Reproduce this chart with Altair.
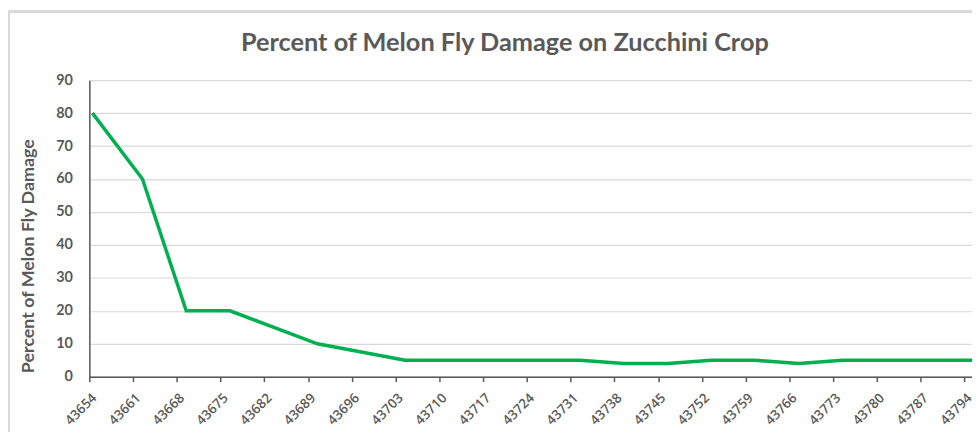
import altair as alt
import pandas as pd

# Excel serial dates and percent damage
dates = [43654, 43662, 43669, 43676, 43690, 43704, 43732, 43739, 43746, 43753, 43760, 43767, 43774, 43795]
damage = [80, 60, 20, 20, 10, 5, 5, 4, 4, 5, 5, 4, 5, 5]

x_ticks = [43654, 43661, 43668, 43675, 43682, 43689, 43696, 43703, 43710, 43717,
           43724, 43731, 43738, 43745, 43752, 43759, 43766, 43773, 43780, 43787, 43794]
y_ticks = [0, 10, 20, 30, 40, 50, 60, 70, 80, 90]

title_text = ["Percent of Melon Fly Damage on Zucchini Crop"]

df = pd.DataFrame({"date": dates, "damage": damage})
tdf = pd.DataFrame({"t": title_text})

GRAY = "#595959"
FONT = "Lato"

line = alt.Chart(df).transform_calculate(
    xpos="datum.date + 0.5"
).mark_line(color="#00b050", strokeWidth=3.5, clip=True).encode(
    x=alt.X("xpos:Q",
            scale=alt.Scale(domain=[43654, 43795.2], nice=False, zero=False),
            axis=alt.Axis(values=x_ticks, title=None, labelAngle=-45, format="d",
                          grid=False, ticks=True, tickSize=5, tickColor=GRAY, tickWidth=1.5,
                          domainColor=GRAY, domainWidth=1.5,
                          labelColor=GRAY, labelFont="Open Sans", labelFontSize=13.5,
                          labelFontWeight=600,
                          labelPadding=9, labelFlush=False, labelOverlap=False)),
    y=alt.Y("damage:Q",
            scale=alt.Scale(domain=[0, 90], nice=False),
            axis=alt.Axis(values=y_ticks, title="Percent of Melon Fly Damage",
                          grid=True, gridColor="#d9d9d9", gridWidth=1.2,
                          ticks=False, domainColor=GRAY, domainWidth=1.5,
                          labelColor=GRAY, labelFont=FONT, labelFontSize=14.5,
                          labelFontWeight="bold", labelPadding=17,
                          titleColor=GRAY, titleFont=FONT, titleFontSize=18,
                          titleFontWeight="bold", titleX=-61, titleY=177,
                          titleBaseline="middle", titleAngle=270)),
)

title = alt.Chart(tdf).mark_text(
    font=FONT, fontSize=25.5, fontWeight="bold", color=GRAY,
    align="center", baseline="middle"
).encode(text="t:N", x=alt.value(419), y=alt.value(-37))

border_left = alt.Chart(df).mark_rule(color="#d9d9d9", strokeWidth=2).encode(
    x=alt.value(-81), y=alt.value(-69), y2=alt.value(360)
)
border_top = alt.Chart(df).mark_rule(color="#d9d9d9", strokeWidth=2).encode(
    x=alt.value(-82), x2=alt.value(890), y=alt.value(-69)
)

chart = alt.layer(border_left, border_top, title, line).properties(
    width=890,
    height=299,
    autosize=alt.AutoSizeParams(type="none"),
    padding={"left": 82, "top": 71, "right": 0, "bottom": 54},
).configure_view(stroke=None).configure(background="white")

chart.save("out.html", embed_options={"renderer": "svg", "actions": False})
